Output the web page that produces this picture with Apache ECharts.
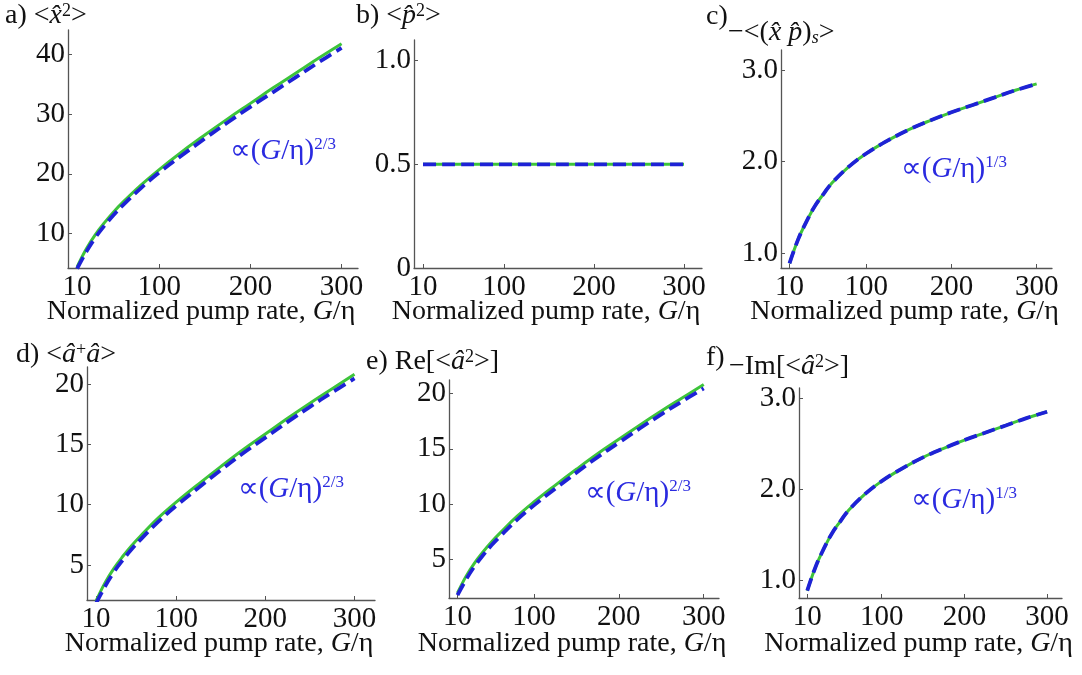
<!DOCTYPE html>
<html>
<head>
<meta charset="utf-8">
<script src="https://cdn.jsdelivr.net/npm/echarts@6/dist/echarts.min.js"></script>
<style>
  html, body { margin: 0; padding: 0; background: #ffffff; }
  #chart { width: 1082px; height: 675px; }
</style>
</head>
<body>
<div id="chart"></div>
<script>
// Pump-rate samples (G/eta) shared by all six panels
const pumpRate = [10, 20, 30, 40, 50, 60, 80, 100, 125, 150, 175, 200, 225, 250, 275, 300];
const xTicks = [10, 100, 200, 300];

// a) <x^2> : numerical solution (green) and power-law scaling (blue dashed)
const x2Numeric = [4.4, 7.4, 9.8, 11.8, 13.6, 15.2, 18.1, 20.7, 23.7, 26.5, 29.2, 31.8, 34.4, 36.9, 39.4, 41.8];
const x2Scaling = [4.1, 6.9, 9.3, 11.3, 13.1, 14.7, 17.6, 20.2, 23.1, 25.9, 28.6, 31.2, 33.7, 36.2, 38.7, 41.1];
const x2Ticks = [10, 20, 30, 40];

// b) <p^2>
const p2Numeric = [0.5, 0.5, 0.5, 0.5, 0.5, 0.5, 0.5, 0.5, 0.5, 0.5, 0.5, 0.5, 0.5, 0.5, 0.5, 0.5];
const p2Scaling = [0.5, 0.5, 0.5, 0.5, 0.5, 0.5, 0.5, 0.5, 0.5, 0.5, 0.5, 0.5, 0.5, 0.5, 0.5, 0.5];
const p2Ticks = [0, 0.5, 1.0];

// c) -<(xp)_s>
const xpNumeric = [0.89, 1.15, 1.35, 1.52, 1.65, 1.77, 1.95, 2.09, 2.23, 2.35, 2.45, 2.54, 2.62, 2.70, 2.78, 2.85];
const xpScaling = [0.89, 1.15, 1.35, 1.52, 1.65, 1.77, 1.95, 2.09, 2.23, 2.35, 2.45, 2.54, 2.62, 2.70, 2.78, 2.85];
const xpTicks = [1, 2, 3];

// d) <a+ a>
const nNumeric = [2.0, 3.5, 4.7, 5.7, 6.6, 7.4, 8.9, 10.2, 11.7, 13.15, 14.55, 15.85, 17.15, 18.4, 19.6, 20.8];
const nScaling = [1.8, 3.2, 4.4, 5.4, 6.3, 7.1, 8.6, 9.9, 11.4, 12.85, 14.25, 15.55, 16.85, 18.1, 19.3, 20.45];
const nTicks = [5, 10, 15, 20];

// e) Re[<a^2>]
const reNumeric = [2.0, 3.5, 4.7, 5.7, 6.6, 7.4, 8.9, 10.2, 11.7, 13.15, 14.55, 15.85, 17.15, 18.4, 19.6, 20.8];
const reScaling = [1.8, 3.2, 4.4, 5.4, 6.3, 7.1, 8.6, 9.9, 11.4, 12.85, 14.25, 15.55, 16.85, 18.1, 19.3, 20.45];
const reTicks = [5, 10, 15, 20];

// f) -Im[<a^2>]
const imNumeric = [0.89, 1.15, 1.35, 1.52, 1.65, 1.77, 1.95, 2.09, 2.23, 2.35, 2.45, 2.54, 2.62, 2.70, 2.78, 2.85];
const imScaling = [0.89, 1.15, 1.35, 1.52, 1.65, 1.77, 1.95, 2.09, 2.23, 2.35, 2.45, 2.54, 2.62, 2.70, 2.78, 2.85];
const imTicks = [1, 2, 3];

const SERIF = '"Liberation Serif", "Times New Roman", serif';
const GREEN = '#3dc43a';
const BLUE = '#1e22d6';
const TEXT = '#111111';
const AXIS = '#555555';
const TICK_FONT = 29;
const NAME_FONT = 28;

const fmtPlain = v => (v === 0 ? '0' : (Number.isInteger(v) ? v.toFixed(1) : String(v)));
const fmtInt = v => String(v);
const fmtOne = v => v.toFixed(1);

// Panel frames and value ranges
const panels = [
  { numeric: x2Numeric, scaling: x2Scaling, yTicks: x2Ticks, fmt: fmtInt,
    left: 68, top: 30, width: 290, height: 238, xMax: 318, yMin: 4.2, yMax: 44.1, nameGap: 30 },
  { numeric: p2Numeric, scaling: p2Scaling, yTicks: p2Ticks, fmt: fmtPlain,
    left: 414, top: 40, width: 288, height: 228, xMax: 320, yMin: 0, yMax: 1.1, nameGap: 30 },
  { numeric: xpNumeric, scaling: xpScaling, yTicks: xpTicks, fmt: fmtOne,
    left: 781, top: 50, width: 271, height: 218, xMax: 318, yMin: 0.84, yMax: 3.22, nameGap: 30 },
  { numeric: nNumeric, scaling: nScaling, yTicks: nTicks, fmt: fmtInt,
    left: 87, top: 367, width: 288, height: 233, xMax: 323, yMin: 2.1, yMax: 21.4, nameGap: 30 },
  { numeric: reNumeric, scaling: reScaling, yTicks: reTicks, fmt: fmtInt,
    left: 449, top: 380, width: 270, height: 218, xMax: 318, yMin: 1.55, yMax: 21.2, nameGap: 32 },
  { numeric: imNumeric, scaling: imScaling, yTicks: imTicks, fmt: fmtOne,
    left: 799, top: 388, width: 263, height: 210, xMax: 318, yMin: 0.81, yMax: 3.11, nameGap: 32 }
];

const pairs = ys => pumpRate.map((x, i) => [x, ys[i]]);

const grids = panels.map(p => ({
  left: p.left, top: p.top, width: p.width, height: p.height,
  containLabel: false, outerBoundsMode: 'none'
}));

const xAxes = panels.map((p, i) => ({
  type: 'value', gridIndex: i, min: 0, max: p.xMax,
  name: 'Normalized pump rate, {i|G}/η',
  nameLocation: 'middle', nameGap: p.nameGap, nameMoveOverlap: false,
  nameTextStyle: {
    fontFamily: SERIF, fontSize: NAME_FONT, color: TEXT, padding: [0, 24, 0, 0],
    rich: { i: { fontFamily: SERIF, fontSize: NAME_FONT, fontStyle: 'italic', color: TEXT } }
  },
  axisLine: { show: true, onZero: false, lineStyle: { color: AXIS, width: 1.3 } },
  axisTick: { show: true, inside: true, length: 4, customValues: xTicks, lineStyle: { color: AXIS } },
  axisLabel: { customValues: xTicks, margin: 5, fontFamily: SERIF, fontSize: TICK_FONT, color: TEXT },
  splitLine: { show: false }
}));

const yAxes = panels.map((p, i) => ({
  type: 'value', gridIndex: i, min: p.yMin, max: p.yMax,
  axisLine: { show: true, onZero: false, lineStyle: { color: AXIS, width: 1.3 } },
  axisTick: { show: true, inside: true, length: 4, customValues: p.yTicks, lineStyle: { color: AXIS } },
  axisLabel: { customValues: p.yTicks, formatter: p.fmt, margin: 3, fontFamily: SERIF, fontSize: TICK_FONT, color: TEXT },
  splitLine: { show: false }
}));

const series = [];
panels.forEach((p, i) => {
  series.push({
    type: 'line', xAxisIndex: i, yAxisIndex: i, data: pairs(p.numeric),
    showSymbol: false, smooth: 0.4, silent: true, z: 2,
    lineStyle: { color: GREEN, width: 3 }
  });
  series.push({
    type: 'line', xAxisIndex: i, yAxisIndex: i, data: pairs(p.scaling),
    showSymbol: false, smooth: 0.4, silent: true, z: 3,
    lineStyle: { color: BLUE, width: 3.8, type: [13, 6] }
  });
});

// Text helpers for panel titles and scaling annotations
const titleRich = {
  t: { fontFamily: SERIF, fontSize: 28, fill: TEXT },
  i: { fontFamily: SERIF, fontSize: 28, fontStyle: 'italic', fill: TEXT },
  sup: { fontFamily: SERIF, fontSize: 18, fill: TEXT, verticalAlign: 'top' },
  sub: { fontFamily: SERIF, fontSize: 18, fontStyle: 'italic', fill: TEXT, verticalAlign: 'bottom' }
};
const label = (x, y, text) => ({
  type: 'text', x: x, y: y, silent: true,
  style: { text: text, rich: titleRich, align: 'left', verticalAlign: 'middle',
           fontFamily: SERIF, fontSize: 28, fill: TEXT }
});

const noteRich = {
  p: { fontFamily: '"Liberation Serif", "DejaVu Sans", serif', fontSize: 29, fill: '#2a2ae0' },
  g: { fontFamily: SERIF, fontSize: 29, fontStyle: 'italic', fill: '#2a2ae0' },
  s: { fontFamily: SERIF, fontSize: 17, fill: '#2a2ae0', verticalAlign: 'top' }
};
const note = (x, y, power) => ({
  type: 'text', x: x, y: y, silent: true,
  style: { text: '{p|∝(}{g|G}{p|/η)}{s|' + power + '}', rich: noteRich,
           align: 'left', verticalAlign: 'middle', fontSize: 29, fill: '#2a2ae0' }
});

const graphics = [
  label(5, 16, '{t|a) <}{i|x\u0302}{sup|2}{t|>}'),
  label(356, 16, '{t|b) <}{i|p\u0302}{sup|2}{t|>}'),
  label(706, 17, '{t|c)}'),
  label(728, 33, '{t|−<(}{i|x\u0302 p\u0302}{t|)}{sub|s}{t|>}'),
  label(16, 355, '{t|d) <}{i|â}{sup|+}{i|â}{t|>}'),
  label(366, 362, '{t|e) Re[<}{i|â}{sup|2}{t|>]}'),
  label(706, 358, '{t|f)}'),
  label(729, 367, '{t|−Im[<}{i|â}{sup|2}{t|>]}'),
  note(230, 151, '2/3'),
  note(901, 169, '1/3'),
  note(238, 489, '2/3'),
  note(585, 493, '2/3'),
  note(911, 500, '1/3')
];

const chart = echarts.init(document.getElementById('chart'), null, { renderer: 'canvas' });
chart.setOption({
  backgroundColor: '#ffffff',
  animation: false,
  grid: grids,
  xAxis: xAxes,
  yAxis: yAxes,
  series: series,
  graphic: graphics
});
</script>
</body>
</html>
